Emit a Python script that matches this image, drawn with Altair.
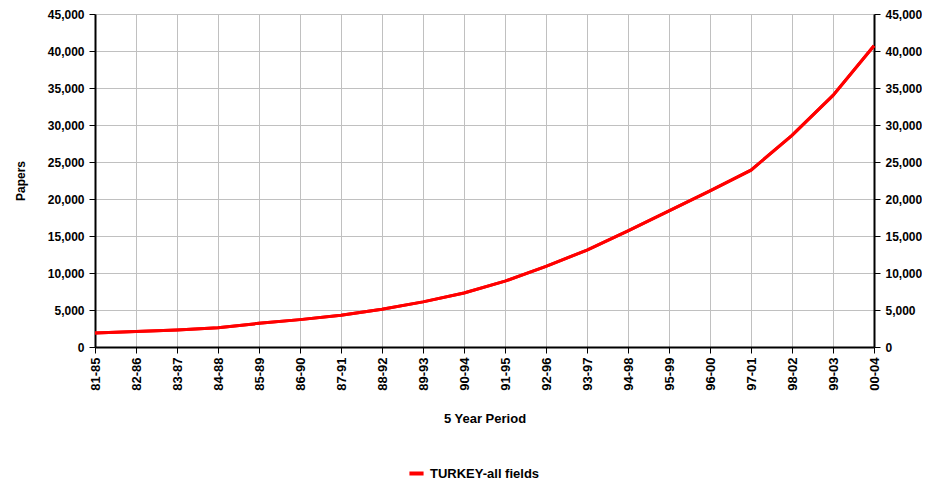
import altair as alt
import pandas as pd

periods = ["81-85", "82-86", "83-87", "84-88", "85-89", "86-90", "87-91", "88-92",
           "89-93", "90-94", "91-95", "92-96", "93-97", "94-98", "95-99", "96-00",
           "97-01", "98-02", "99-03", "00-04"]
papers = [1900, 2100, 2300, 2600, 3200, 3700, 4300, 5100, 6100, 7300,
          8900, 10900, 13100, 15700, 18400, 21100, 23900, 28600, 34000, 40700]
series_name = "TURKEY-all fields"

df = pd.DataFrame({"period": periods, "papers": papers, "series": series_name})

FONT = "Liberation Sans"

x = alt.X("period:N", sort=periods, title="5 Year Period",
          scale=alt.Scale(type="point", padding=0),
          axis=alt.Axis(labelAngle=-90, labelFontWeight="bold", labelFontSize=13,
                        titleFontWeight="bold", titleFontSize=13, titlePadding=22,
                        domainColor="black", domainWidth=2, tickColor="black",
                        tickSize=6, grid=True, gridColor="#c0c0c0", labelPadding=4,
                        labelBaseline="middle", labelAlign="right"))

yscale = alt.Scale(domain=[0, 45000], nice=False)
yvals = list(range(0, 45001, 5000))

left = alt.Chart(df).mark_line(color="#ff0000", strokeWidth=3).encode(
    x=x,
    y=alt.Y("papers:Q", scale=yscale, title="Papers",
            axis=alt.Axis(values=yvals, format=",d", labelPadding=5,
                          labelFontWeight="bold", labelFontSize=12,
                          titleFontWeight="bold", titleFontSize=12, titlePadding=20,
                          domainColor="black", domainWidth=2, tickColor="black",
                          tickSize=6, grid=True, gridColor="#c0c0c0")),
    color=alt.Color("series:N", scale=alt.Scale(range=["#ff0000"]),
                    legend=alt.Legend(orient="none", legendX=312, legendY=450,
                                      title=None, symbolType="stroke",
                                      symbolStrokeWidth=4, symbolSize=200,
                                      labelFontWeight="bold", labelFontSize=13)),
)

right = alt.Chart(df).mark_line(color="#ff0000", strokeWidth=3).encode(
    x=x,
    y=alt.Y("papers:Q", scale=yscale, title=None,
            axis=alt.Axis(orient="right", values=yvals, format=",d", labelPadding=5,
                          labelFontWeight="bold", labelFontSize=12,
                          domainColor="black", domainWidth=2, tickColor="black",
                          tickSize=6, grid=False)),
    color=alt.Color("series:N", scale=alt.Scale(range=["#ff0000"]), legend=None),
)

chart = alt.layer(left, right).resolve_scale(y="independent").properties(
    width=779, height=333,
    padding={"left": 6, "top": 0, "right": 0, "bottom": 0}
).configure(font=FONT).configure_view(stroke=None)

chart.save("out.html", embed_options={"renderer": "svg", "actions": False})
